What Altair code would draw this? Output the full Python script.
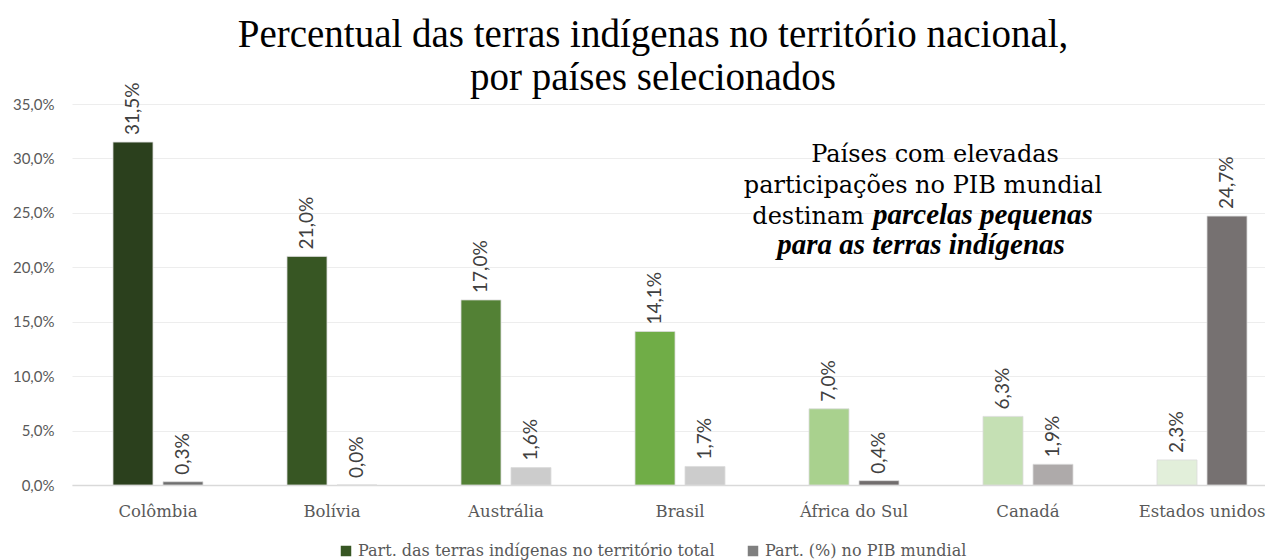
import altair as alt
import pandas as pd

paises = ["Colômbia", "Bolívia", "Austrália", "Brasil", "África do Sul", "Canadá", "Estados unidos"]
terras = [31.5, 21.0, 17.0, 14.1, 7.0, 6.3, 2.3]
pib = [0.3, 0.0, 1.6, 1.7, 0.4, 1.9, 24.7]
series = ["Part. das terras indígenas no território total", "Part. (%) no PIB mundial"]
y_ticks = [0, 5, 10, 15, 20, 25, 30, 35]

titulo = ["Percentual das terras indígenas no território nacional,", "por países selecionados"]
nota_l1 = "Países com elevadas"
nota_l2 = "participações no PIB mundial"
nota_l3a = "destinam"
nota_l3b = "parcelas pequenas"
nota_l4 = "para as terras indígenas"

verdes = ["#2b401d", "#375623", "#538135", "#70ad47", "#a9d18e", "#c5e0b4", "#e2efda"]
cinzas = ["#6f6f6f", "#808080", "#cccccc", "#cccccc", "#716d6d", "#aeaaaa", "#767171"]
legenda_cores = ["#375623", "#7f7f7f"]

rows = []
for i, p in enumerate(paises):
    rows.append({"pais": p, "serie": series[0], "valor": terras[i], "chave": f"{p}|0"})
    rows.append({"pais": p, "serie": series[1], "valor": pib[i], "chave": f"{p}|1"})
df = pd.DataFrame(rows)
chaves = [f"{p}|{k}" for p in paises for k in (0, 1)]
cores = [c for par in zip(verdes, cinzas) for c in par]

W, H = 1190, 381

x = alt.X(
    "pais:N", sort=paises,
    scale=alt.Scale(domain=paises, range=[0, 1216], paddingInner=0.4828, paddingOuter=0.2356),
    axis=alt.Axis(title=None, labelAngle=0, labelFont="DejaVu Serif", labelFontSize=16.5,
                  labelColor="#595959", labelPadding=18, ticks=False, domainColor="#d9d9d9",
                  domainWidth=1.5, grid=False),
)
xo = alt.XOffset("serie:N", sort=series,
                 scale=alt.Scale(domain=series, paddingInner=0.2, paddingOuter=0))
y = alt.Y(
    "valor:Q", scale=alt.Scale(domain=[0, 35]),
    axis=alt.Axis(title=None, values=y_ticks,
                  labelExpr="replace(format(datum.value,'.1f'),'.',',')+'%'",
                  labelFont="Lato", labelFontSize=15, labelColor="#595959", labelPadding=18,
                  ticks=False, domain=False, gridColor="#ededed", gridWidth=1),
)

bars = alt.Chart(df).mark_bar(stroke="#dcdcdc", strokeWidth=0.8).encode(
    x=x, xOffset=xo, y=y,
    fill=alt.Fill("chave:N", scale=alt.Scale(domain=chaves, range=cores), legend=None),
)

leg = alt.Chart(df).mark_square(opacity=0).encode(
    x=x, xOffset=xo, y=y,
    color=alt.Color("serie:N", sort=series,
                    scale=alt.Scale(domain=series, range=legenda_cores),
                    legend=alt.Legend(title=None, orient="none", legendX=266, legendY=439,
                                      direction="horizontal", symbolType="square",
                                      symbolSize=110, symbolOpacity=1, symbolStrokeWidth=0,
                                      labelFont="DejaVu Serif", labelFontSize=16,
                                      labelColor="#595959", labelLimit=600,
                                      columnPadding=30, labelOffset=4)),
)

labels = alt.Chart(df).transform_calculate(
    rot="replace(format(datum.valor,'.1f'),'.',',')+'%'"
).mark_text(angle=270, align="left", baseline="middle", dx=7, font="Lato",
            fontSize=19, color="#404040").encode(
    x=x, xOffset=xo, y=y, text="rot:N",
)

one = pd.DataFrame({"k": [0]})

title = alt.Chart(one).mark_text(text=titulo, font="Liberation Serif", fontSize=39,
                                 lineHeight=43, align="center", baseline="alphabetic",
                                 color="#000000").encode(x=alt.value(581), y=alt.value(-57))

def note(txt, xv, yv, align="center", bold=False):
    return alt.Chart(one).mark_text(
        text=txt, font="Liberation Serif" if bold else "DejaVu Serif",
        fontSize=29 if bold else 24, align=align, baseline="alphabetic",
        color="#000000", fontStyle="italic" if bold else "normal",
        fontWeight="bold" if bold else "normal",
    ).encode(x=alt.value(xv), y=alt.value(yv))

notes = [
    note(nota_l1, 863, 58),
    note(nota_l2, 851, 89),
    note(nota_l3a, 792, 120, align="right"),
    note(nota_l3b, 801, 120, align="left", bold=True),
    note(nota_l4, 849, 150, bold=True),
]

chart = alt.layer(bars, leg, labels, title, *notes).properties(
    width=W, height=H,
    autosize=alt.AutoSizeParams(type="none"),
    padding={"left": 64, "top": 96, "right": 3, "bottom": 75},
).configure_view(stroke=None)

chart.save("out.html", embed_options={"renderer": "svg", "actions": False})
